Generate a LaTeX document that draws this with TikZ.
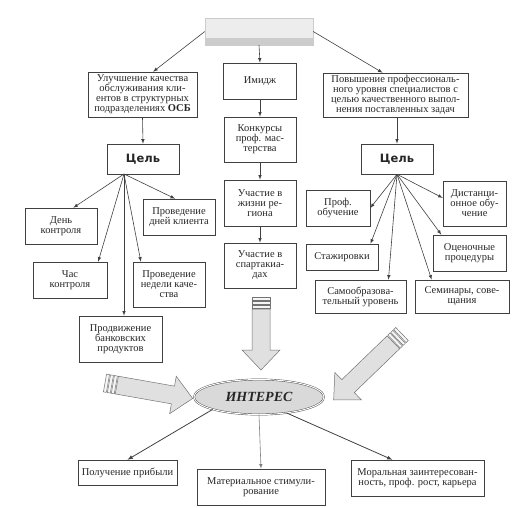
\documentclass[tikz,border=0pt]{standalone}
\usepackage{fontspec}
\setmainfont{Liberation Serif}
\newfontfamily\celfont{DejaVu Sans}
\usetikzlibrary{shapes.geometric}

\tikzset{
  pics/bigarrow/.style={code={
    \draw[bigfill] (12,-9) -- (#1-20,-9) -- (#1-20,-19) -- (#1,0) -- (#1-20,19) -- (#1-20,9) -- (12,9) -- cycle;
    \foreach \s in {0,4,8} \draw[bigfill,fill=black!4] (\s,-9) rectangle ++(3,18);
  }}
}

\begin{document}
\begin{tikzpicture}[x=1pt,y=-1pt,
  box/.style={draw=black!75,line width=0.6pt,align=center,inner sep=1pt,text=black!85,font=\fontsize{10.5}{10}\selectfont},
  goal/.style={draw=black!75,line width=0.6pt,minimum width=72,minimum height=30,text=black!85,font=\celfont\bfseries\fontsize{11.5}{12}\selectfont},
  link/.style={draw=black!75,line width=0.6pt,-latex},
  bigfill/.style={draw=black!55,line width=0.5pt,fill=black!12}]
\useasboundingbox (0,0) rectangle (525,507);

% top bar
\node[fill=black!7,draw=black!20,minimum width=108,minimum height=27,inner sep=0] (top) at (259,31.5) {};
\fill[black!20] (205,38) rectangle (313,45);

% first row
\node[box,minimum width=109,minimum height=45] (b1) at (142.5,94.5) {Улучшение качества\\обслуживания кли-\\ентов в структурных\\подразделениях \textbf{ОСБ}};
\node[box,minimum width=73,minimum height=36] (img) at (260,81) {Имидж};
\node[box,minimum width=145,minimum height=44] (b3) at (395.5,95) {Повышение профессиональ-\\ного уровня специалистов с\\целью качественного выпол-\\нения поставленных задач};
\draw[link] (top.west) -- (b1.65);
\draw[link] (top.south) -- (img.north);
\draw[link] (top.east) -- (b3.120);

% middle column
\node[box,minimum width=72,minimum height=45] (kon) at (260,139.5) {Конкурсы\\проф. мас-\\терства};
\node[box,minimum width=72,minimum height=46] (zhizn) at (260,203) {Участие в\\жизни ре-\\гиона};
\node[box,minimum width=72,minimum height=45] (spart) at (260,265.5) {Участие в\\спартакиа-\\дах};
\draw[link] (img) -- (kon);
\draw[link] (kon) -- (zhizn);
\draw[link] (zhizn) -- (spart);

% left goal
\node[goal] (celL) at (143,159) {Цель};
\draw[link] (b1.south) -- (celL.north);
\coordinate (fanL) at (124,174);
\node[box,minimum width=72,minimum height=36] (den) at (61,226) {День\\контроля};
\node[box,minimum width=72,minimum height=36] (klient) at (179,217) {Проведение\\дней клиента};
\node[box,minimum width=74,minimum height=36] (chas) at (70,280) {Час\\контроля};
\node[box,minimum width=72,minimum height=45] (ned) at (169,284.5) {Проведение\\недели каче-\\ства};
\node[box,minimum width=83,minimum height=46] (prod) at (120.5,339) {Продвижение\\банковских\\продуктов};
\draw[link] (fanL) -- (den.56);
\draw[link] (fanL) -- (klient.102);
\draw[link] (fanL) -- (chas.33);
\draw[link] (fanL) -- (ned.141);
\draw[link] (fanL) -- (fanL |- prod.north);

% right goal
\node[goal] (celR) at (397,159) {Цель};
\draw[link] (celR.north |- b3.south) -- (celR.north);
\node[box,minimum width=64,minimum height=36] (prof) at (338,208) {Проф.\\обучение};
\node[box,minimum width=63,minimum height=45] (dist) at (474.5,203.5) {Дистанци-\\онное обу-\\чение};
\node[box,minimum width=72,minimum height=26] (stazh) at (342,257) {Стажировки};
\node[box,minimum width=73,minimum height=36] (ocen) at (469.5,253) {Оценочные\\процедуры};
\node[box,minimum width=91,minimum height=33] (samo) at (360.5,296.5) {Самообразова-\\тельный уровень};
\node[box,minimum width=94,minimum height=33] (semin) at (462,296.5) {Семинары, сове-\\щания};
\draw[link] (celR.south) -- (prof.east);
\draw[link] (celR.south) -- (dist.170);
\draw[link] (celR.south) -- (stazh.25);
\draw[link] (celR.south) -- (ocen.147);
\draw[link] (celR.south) -- (samo.31);
\draw[link] (celR.south) -- (semin.151);

% big arrows
\pic[rotate=-90] at (261,297) {bigarrow=73};
\pic[rotate=-10] at (105,383) {bigarrow=89};
\pic[rotate=-136] at (402,334) {bigarrow=95};

% interest
\node[ellipse,draw=black!75,double,double distance=1pt,fill=black!15,minimum width=130,minimum height=35,text=black!85,font=\bfseries\itshape\fontsize{14}{14}\selectfont] (int) at (259,397) {ИНТЕРЕС};
\node[box,minimum width=99,minimum height=25] (prib) at (127.5,472.5) {Получение прибыли};
\node[box,minimum width=128,minimum height=36] (mat) at (261,487) {Материальное стимули-\\рование};
\node[box,minimum width=133,minimum height=36] (moral) at (417.5,478) {Моральная заинтересован-\\ность, проф. рост, карьера};
\draw[link,line width=0.8pt] (int.195) -- (prib.north);
\draw[link,draw=black!50] (int.south) -- (mat.north);
\draw[link,line width=0.8pt] (int.330) -- (moral.144);
\end{tikzpicture}
\end{document}
